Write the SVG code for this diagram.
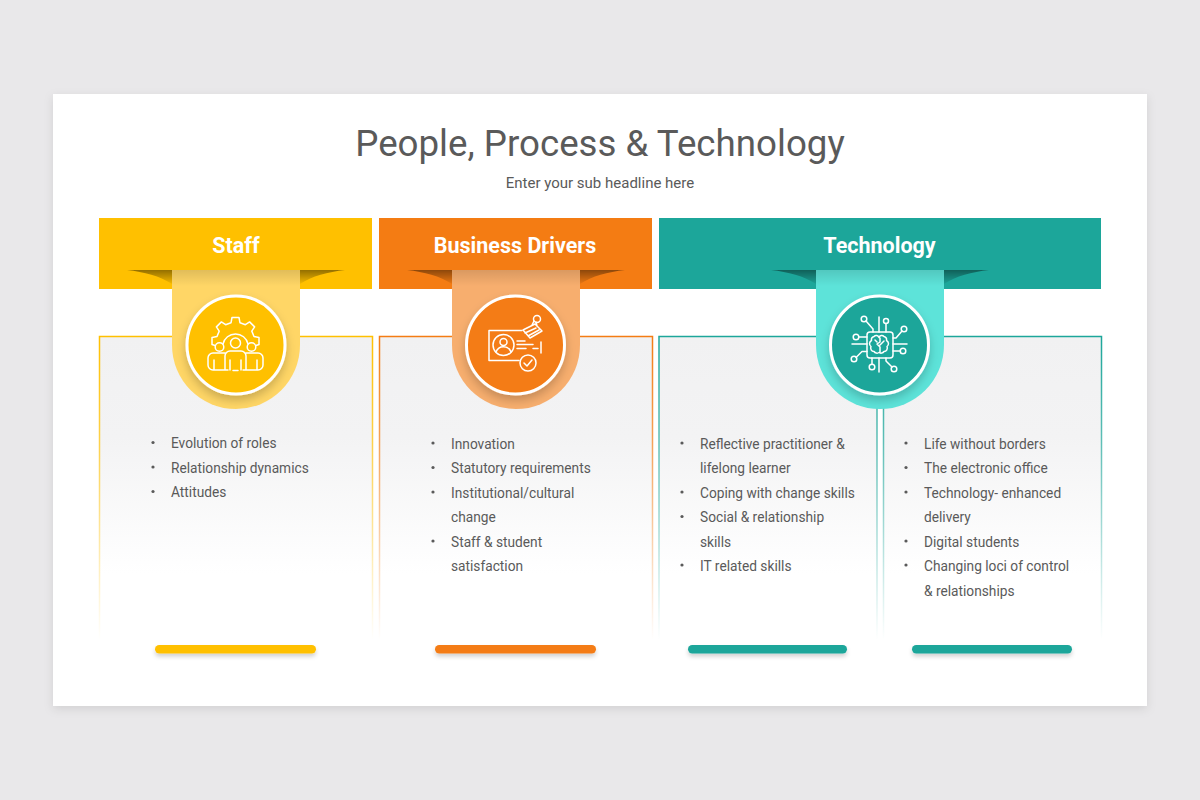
<svg xmlns="http://www.w3.org/2000/svg" width="1200" height="800" viewBox="0 0 1200 800">
<style>
text{font-family:Roboto,"Liberation Sans",sans-serif}
.h{font-size:21.500px;font-weight:700;fill:#fff;text-anchor:middle}
.b{font-size:13.720px;fill:#5a5a5a}
.i{fill:none;stroke:#fff;stroke-width:1.500;stroke-linecap:round;stroke-linejoin:round}
.d{fill:#5a5a5a}
</style>
<defs>
<filter id="card" x="-5%" y="-5%" width="110%" height="110%"><feDropShadow dx="0" dy="3" stdDeviation="5" flood-color="#000" flood-opacity=".1"/></filter>
<filter id="cs" x="-30%" y="-30%" width="160%" height="160%"><feDropShadow dx="0" dy="5" stdDeviation="5" flood-color="#000" flood-opacity=".2"/></filter>
<filter id="bs" x="-5%" y="-100%" width="110%" height="350%"><feDropShadow dx="0" dy="3" stdDeviation="2" flood-color="#000" flood-opacity=".18"/></filter>
<filter id="bl" x="-10%" y="-50%" width="120%" height="200%"><feGaussianBlur stdDeviation=".6"/></filter>
<linearGradient id="f" x1="0" y1="0" x2="0" y2="1"><stop offset="0" stop-color="#f1f1f2"/><stop offset=".33" stop-color="#f3f3f4"/><stop offset=".78" stop-color="#fff"/></linearGradient>
<linearGradient id="sy" gradientUnits="userSpaceOnUse" x1="0" y1="336" x2="0" y2="640"><stop offset="0" stop-color="#ffc000"/><stop offset=".35" stop-color="#ffc000" stop-opacity=".7"/><stop offset="1" stop-color="#ffc000" stop-opacity="0"/></linearGradient>
<linearGradient id="so" gradientUnits="userSpaceOnUse" x1="0" y1="336" x2="0" y2="640"><stop offset="0" stop-color="#f47c13"/><stop offset=".35" stop-color="#f47c13" stop-opacity=".7"/><stop offset="1" stop-color="#f47c13" stop-opacity="0"/></linearGradient>
<linearGradient id="st" gradientUnits="userSpaceOnUse" x1="0" y1="336" x2="0" y2="640"><stop offset="0" stop-color="#1ca69a"/><stop offset=".35" stop-color="#1ca69a" stop-opacity=".7"/><stop offset="1" stop-color="#1ca69a" stop-opacity="0"/></linearGradient>
<linearGradient id="rs" x1="0" y1="0" x2="0" y2="1"><stop offset="0" stop-color="#000" stop-opacity=".12"/><stop offset="1" stop-color="#000" stop-opacity="0"/></linearGradient>
<linearGradient id="es" x1="0" y1="0" x2="0" y2="1"><stop offset="0" stop-color="#000" stop-opacity=".42"/><stop offset="1" stop-color="#000" stop-opacity=".04"/></linearGradient>
<path id="ear" d="M-109 0H109C92 2 76 6 64 14H-64C-76 6 -92 2 -109 0Z" fill="url(#es)" filter="url(#bl)"/>
<path id="rib" d="M-64 0H64V75A64 64 0 0 1 -64 75Z"/>
<rect id="rsh" x="-64" y="0" width="128" height="16" fill="url(#rs)"/>
</defs>

<rect width="1200" height="800" fill="#e9e8ea"/>
<rect id="card-bg" x="53" y="94" width="1094" height="612" fill="#fff" filter="url(#card)"/>

<g id="title">
<text x="600" y="155.500" font-size="36.700" fill="#5a5a5a" text-anchor="middle">People, Process &amp; Technology</text>
<text x="600" y="188" font-size="15" fill="#5a5a5a" text-anchor="middle">Enter your sub headline here</text>
</g>

<g id="panels">
<rect id="panel-staff" x="99.500" y="336.500" width="273" height="304" fill="url(#f)" stroke="url(#sy)" stroke-width="1.500"/>
<rect id="panel-drivers" x="379.500" y="336.500" width="273" height="304" fill="url(#f)" stroke="url(#so)" stroke-width="1.500"/>
<rect id="panel-tech-1" x="659" y="336.500" width="218" height="304" fill="url(#f)" stroke="url(#st)" stroke-width="1.500"/>
<rect id="panel-tech-2" x="883.500" y="336.500" width="218" height="304" fill="url(#f)" stroke="url(#st)" stroke-width="1.500"/>
</g>

<g id="node-staff">
<rect x="99" y="218" width="273" height="71" fill="#ffc000"/>
<use href="#ear" x="236" y="270"/>
<use href="#rib" x="236" y="270" fill="#ffd666"/>
<use href="#rsh" x="236" y="270"/>
<text class="h" x="236" y="253">Staff</text>
<circle cx="236" cy="345" r="49" fill="#ffc000" stroke="#fff" stroke-width="3" filter="url(#cs)"/>
<g class="i">
<path d="M215 345.500L212 344.500V337.500L217 336.500L219.200 331.100L216.400 326.900L221.400 321.900L225.600 324.700L231 322.800L232 317.500H239L240 322.800L245.400 324.700L249.600 321.900L254.600 326.900L251.800 331.100L254 336.500L259 337.500V344.500L256 345.500"/>
<path d="M223 344a12.800 12.800 0 0 1 25 0"/>
<circle cx="235.500" cy="343" r="5"/><circle cx="219.500" cy="347" r="4.300"/><circle cx="251.500" cy="347" r="4.300"/>
<path d="M225 353h-12a5 5 0 0 0 -5 5v7a5 5 0 0 0 5 5h12M246 353h12a5 5 0 0 1 5 5v7a5 5 0 0 1 -5 5h-12M225 370v-14a5 5 0 0 1 5 -5h11a5 5 0 0 1 5 5v14M214 360v10M257 360v10M230 360v10M241 360v10M225 370h3M233 370.500h5M243 370h3"/>
</g>
</g>

<g id="node-drivers">
<rect x="379" y="218" width="273" height="71" fill="#f47c13"/>
<use href="#ear" x="516" y="270"/>
<use href="#rib" x="516" y="270" fill="#f7ae6e"/>
<use href="#rsh" x="516" y="270"/>
<text class="h" x="515" y="253">Business Drivers</text>
<circle cx="515.500" cy="345" r="49" fill="#f47c13" stroke="#fff" stroke-width="3" filter="url(#cs)"/>
<g class="i">
<path d="M522 330.500h-33v30h30M541 342v11"/>
<circle cx="503.500" cy="345" r="10.500"/><circle cx="503.500" cy="342" r="3.500"/>
<path d="M496 352a8 8 0 0 1 15 0M517 341h8M517 344.500h16M517 348.500h9M533 348.500h5"/>
<path d="M523 330l12 -6 7 7 -12 7zM525 333l11 -5M528 336l11 -6M532 325l2 -4M537 326l-1 -4"/>
<circle cx="537" cy="319" r="3.500"/>
<circle cx="528" cy="363" r="8"/><path d="M524 363l3 3 5 -6"/>
</g>
</g>

<g id="node-tech">
<rect x="659" y="218" width="442" height="71" fill="#1ca69a"/>
<use href="#ear" x="880" y="270"/>
<use href="#rib" x="880" y="270" fill="#5de3d9"/>
<use href="#rsh" x="880" y="270"/>
<text class="h" x="879.500" y="253">Technology</text>
<circle cx="879.500" cy="345" r="49" fill="#1ca69a" stroke="#fff" stroke-width="3" filter="url(#cs)"/>
<g class="i">
<rect x="867" y="332" width="26" height="26" rx="3"/>
<path d="M879 337.500a3 3 0 0 0 -5 -1a3.500 3.500 0 0 0 -2.500 4a3.500 3.500 0 0 0 -.5 6a3.500 3.500 0 0 0 3 5a3.500 3.500 0 0 0 5 1a3.500 3.500 0 0 0 5 -1a3.500 3.500 0 0 0 3 -5a3.500 3.500 0 0 0 -.5 -6a3.500 3.500 0 0 0 -2.500 -4a3 3 0 0 0 -5 1zM880 338v4l-3 2 3 3v6M884 341l-4 4M875 340l2 2"/>
<path d="M879 317v15M866 321l7 8v3M886 323.500v8.500M902 331l-6 7h-3M893 344h14M893 351h7.500M859 337h8M852 344h15M856 357.500l6 -6h5M872 364.500v-6.500M879 358v14M892 367l-6 -6v-3"/>
<circle cx="864" cy="319" r="2.800"/><circle cx="886" cy="321" r="2.500"/><circle cx="904" cy="329" r="2.800"/><circle cx="903" cy="351" r="2.800"/><circle cx="856" cy="337" r="2.800"/><circle cx="854" cy="359" r="2.800"/><circle cx="872" cy="367" r="2.800"/><circle cx="894" cy="369" r="2.800"/>
</g>
</g>

<g id="list-staff" class="b">
<circle class="d" cx="153" cy="442.500" r="1.600"/><text x="171" y="448">Evolution of roles</text>
<circle class="d" cx="153" cy="467" r="1.600"/><text x="171" y="472.500">Relationship dynamics</text>
<circle class="d" cx="153" cy="491.500" r="1.600"/><text x="171" y="497">Attitudes</text>
</g>
<g id="list-drivers" class="b">
<circle class="d" cx="433" cy="443" r="1.600"/><text x="451" y="448.500">Innovation</text>
<circle class="d" cx="433" cy="467.500" r="1.600"/><text x="451" y="473">Statutory requirements</text>
<circle class="d" cx="433" cy="492" r="1.600"/><text x="451" y="497.500">Institutional/cultural</text>
<text x="451" y="522">change</text>
<circle class="d" cx="433" cy="541" r="1.600"/><text x="451" y="546.500">Staff &amp; student</text>
<text x="451" y="570.500">satisfaction</text>
</g>
<g id="list-tech-1" class="b">
<circle class="d" cx="682" cy="443" r="1.600"/><text x="700" y="448.500">Reflective practitioner &amp;</text>
<text x="700" y="473">lifelong learner</text>
<circle class="d" cx="682" cy="492" r="1.600"/><text x="700" y="497.500">Coping with change skills</text>
<circle class="d" cx="682" cy="516.500" r="1.600"/><text x="700" y="522">Social &amp; relationship</text>
<text x="700" y="546.500">skills</text>
<circle class="d" cx="682" cy="565" r="1.600"/><text x="700" y="570.500">IT related skills</text>
</g>
<g id="list-tech-2" class="b">
<circle class="d" cx="906" cy="443" r="1.600"/><text x="924" y="448.500">Life without borders</text>
<circle class="d" cx="906" cy="467.500" r="1.600"/><text x="924" y="473">The electronic office</text>
<circle class="d" cx="906" cy="492" r="1.600"/><text x="924" y="497.500">Technology- enhanced</text>
<text x="924" y="522">delivery</text>
<circle class="d" cx="906" cy="541" r="1.600"/><text x="924" y="546.500">Digital students</text>
<circle class="d" cx="906" cy="565" r="1.600"/><text x="924" y="570.500">Changing loci of control</text>
<text x="924" y="595.500">&amp; relationships</text>
</g>

<g id="bars" filter="url(#bs)">
<rect x="155" y="645" width="161" height="8.500" rx="4.200" fill="#ffc000"/>
<rect x="435" y="645" width="161" height="8.500" rx="4.200" fill="#f47c13"/>
<rect x="688" y="645" width="159" height="8.500" rx="4.200" fill="#1ca69a"/>
<rect x="912" y="645" width="160" height="8.500" rx="4.200" fill="#1ca69a"/>
</g>
</svg>
